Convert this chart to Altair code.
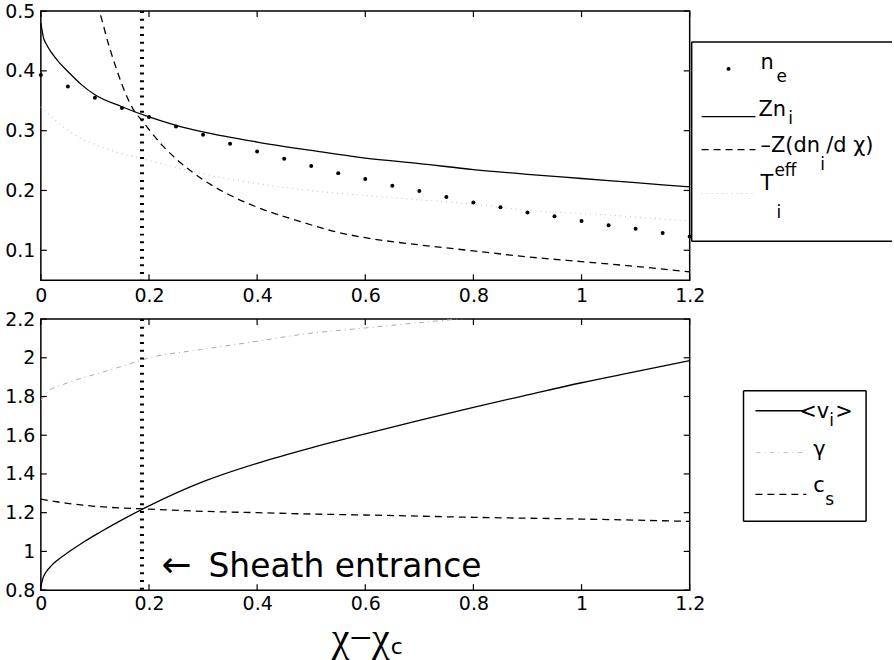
import altair as alt
import pandas as pd

# ---------------- data ----------------
# top panel
ne_x = [0, 0.05, 0.1, 0.15, 0.2, 0.25, 0.3, 0.35, 0.4, 0.45, 0.5, 0.55, 0.6,
        0.65, 0.7, 0.75, 0.8, 0.85, 0.9, 0.95, 1.0, 1.05, 1.1, 1.15, 1.2]
ne_y = [0.393, 0.374, 0.355, 0.338, 0.323, 0.307, 0.293, 0.278, 0.265, 0.253,
        0.241, 0.229, 0.219, 0.208, 0.199, 0.189, 0.180, 0.172, 0.163, 0.157,
        0.149, 0.142, 0.136, 0.129, 0.123]

zn_x = [0, 0.005, 0.01, 0.02, 0.035, 0.05, 0.075, 0.1, 0.15, 0.2, 0.25, 0.3,
        0.4, 0.5, 0.6, 0.7, 0.8, 0.9, 1.0, 1.1, 1.2]
zn_y = [0.48, 0.455, 0.445, 0.43, 0.413, 0.399, 0.377, 0.36, 0.34, 0.323, 0.309,
        0.298, 0.281, 0.267, 0.254, 0.245, 0.235, 0.227, 0.22, 0.213, 0.206]

dn_x = [0.095, 0.108, 0.125, 0.141, 0.16, 0.172, 0.186, 0.2, 0.225, 0.25, 0.3,
        0.35, 0.4, 0.48, 0.54, 0.6, 0.7, 0.8, 0.9, 1.0, 1.1, 1.2]
dn_y = [0.53, 0.5, 0.445, 0.4, 0.355, 0.334, 0.318, 0.302, 0.275, 0.253, 0.218,
        0.192, 0.172, 0.148, 0.132, 0.121, 0.109, 0.099, 0.089, 0.081, 0.073, 0.064]

te_x = [0, 0.03, 0.068, 0.1, 0.13, 0.2, 0.31, 0.45, 0.62, 0.8, 0.91, 1.03, 1.14, 1.2]
te_y = [0.34, 0.315, 0.29, 0.277, 0.267, 0.25, 0.226, 0.205, 0.19, 0.177, 0.166,
        0.16, 0.153, 0.149]

# bottom panel
vi_x = [0, 0.005, 0.01, 0.02, 0.03, 0.05, 0.08, 0.11, 0.15, 0.2, 0.3, 0.4,
        0.5, 0.6, 0.7, 0.8, 0.9, 1.0, 1.1, 1.2]
vi_y = [0.82, 0.87, 0.895, 0.928, 0.953, 0.994, 1.05, 1.1, 1.163, 1.235, 1.36,
        1.455, 1.535, 1.607, 1.677, 1.744, 1.808, 1.871, 1.928, 1.985]

gam_x = [0, 0.015, 0.034, 0.07, 0.11, 0.166, 0.2, 0.295, 0.4, 0.48, 0.6, 0.756, 0.85]
gam_y = [1.78, 1.83, 1.854, 1.89, 1.922, 1.97, 1.999, 2.042, 2.085, 2.12, 2.154,
         2.196, 2.22]

cs_x = [0, 0.049, 0.1, 0.2, 0.3, 0.4, 0.5, 0.6, 0.8, 1.0, 1.2]
cs_y = [1.27, 1.248, 1.233, 1.218, 1.207, 1.2, 1.193, 1.188, 1.176, 1.167, 1.155]

sheath_x = [0.187]
x_ticks = [0, 0.2, 0.4, 0.6, 0.8, 1.0, 1.2]
top_y_ticks = [0.1, 0.2, 0.3, 0.4, 0.5]
bot_y_ticks = [0.8, 1.0, 1.2, 1.4, 1.6, 1.8, 2.0, 2.2]
annot_arrow = {"x": 0.223, "y": 0.867}
annot_text = {"x": 0.31, "y": 0.867}

# ---------------- layout ----------------
W, H1, H2 = 651, 270, 272
XS = alt.Scale(domain=[0, 1.2], nice=False, zero=False)
YS1 = alt.Scale(domain=[0.05, 0.5], nice=False, zero=False)
YS2 = alt.Scale(domain=[0.8, 2.2], nice=False, zero=False)
FONT = "DejaVu Sans"

one = alt.Data(values=[{"k": 1}])

XAX1 = alt.Axis(values=x_ticks, format="~g", title=None, ticks=False, domain=False,
                grid=False, labelPadding=6, labelFlush=False, labelOverlap=False)
XAX2 = alt.Axis(values=x_ticks, format="~g", title=None, ticks=False, domain=False,
                grid=False, labelPadding=4, labelFlush=False, labelOverlap=False)
YAX1 = alt.Axis(values=top_y_ticks, format="~g", title=None, ticks=False, domain=False,
                grid=False, labelPadding=6, labelFlush=False, labelOverlap=False)
YAX2 = alt.Axis(values=bot_y_ticks, format="~g", title=None, ticks=False, domain=False,
                grid=False, labelPadding=6, labelFlush=False, labelOverlap=False)


def T(s, x, y, size=21, font=FONT, align="left", color="black"):
    return alt.Chart(one).mark_text(text=s, align=align, baseline="alphabetic",
                                    fontSize=size, font=font, color=color).encode(
        x=alt.value(x), y=alt.value(y))


def R(x1, x2, y1, y2, dash=None, color="black", width=1.3):
    kw = dict(color=color, strokeWidth=width)
    if dash:
        kw["strokeDash"] = dash
    return alt.Chart(one).mark_rule(**kw).encode(
        x=alt.value(x1), x2=alt.value(x2), y=alt.value(y1), y2=alt.value(y2))


def box(x1, x2, y1, y2, right=True):
    bg = alt.Chart(one).mark_rect(fill="white").encode(
        x=alt.value(x1), x2=alt.value(x2), y=alt.value(y1), y2=alt.value(y2))
    out = [bg, R(x1, x2, y1, y1, width=1.5), R(x1, x2, y2, y2, width=1.5),
           R(x1, x1, y1, y2, width=1.5)]
    if right:
        out.append(R(x2, x2, y1, y2, width=1.5))
    return out


def make_panel_helpers(xax, ysc, yax, h):
    def X():
        return alt.X("x:Q", scale=XS, axis=xax)

    def Y():
        return alt.Y("y:Q", scale=ysc, axis=yax)

    def line(xs, ys, dash=None, color="black", width=1.3, clip=False):
        df = pd.DataFrame({"x": xs, "y": ys})
        kw = dict(color=color, strokeWidth=width, interpolate="monotone", clip=clip)
        if dash:
            kw["strokeDash"] = dash
        return alt.Chart(df).mark_line(**kw).encode(x=X(), y=Y())

    def ticks(yticks):
        xt = pd.DataFrame({"x": x_ticks})
        yt = pd.DataFrame({"y": yticks})
        out = []
        for (a, b) in [(h, h - 6), (0, 6)]:
            out.append(alt.Chart(xt).mark_rule(color="black", strokeWidth=1.2).encode(
                x=X(), y=alt.value(a), y2=alt.value(b)))
        for (a, b) in [(0, 6), (W, W - 6)]:
            out.append(alt.Chart(yt).mark_rule(color="black", strokeWidth=1.2).encode(
                y=Y(), x=alt.value(a), x2=alt.value(b)))
        return out

    def sheath():
        return alt.Chart(pd.DataFrame({"x": sheath_x})).mark_rule(
            color="black", strokeWidth=4, strokeDash=[2, 5.7]).encode(x=X())

    return X, Y, line, ticks, sheath


DASH = [7, 5]
GRAYDOT = [1, 4]
GRAYDASHDOT = [5, 4, 1, 4]
GRAY = "#c4c4c4"
GRAY2 = "#ababab"

# ---------------- top panel ----------------
X1, Y1, line1, ticks1, sheath1 = make_panel_helpers(XAX1, YS1, YAX1, H1)
ne_df = pd.DataFrame({"x": ne_x, "y": ne_y})
ne_pts = alt.Chart(ne_df).mark_circle(size=16, color="black", opacity=1).encode(
    x=X1(), y=Y1())

anchor = alt.Chart(one).mark_rule(strokeOpacity=0, strokeWidth=0.1).encode(
    x=alt.value(-40), x2=alt.value(-39), y=alt.value(0), y2=alt.value(0))

top_layers = [
    line1(zn_x, zn_y),
    line1(te_x, te_y, dash=GRAYDOT, color=GRAY, width=1.1),
    line1(dn_x, dn_y, dash=DASH, clip=True),
    ne_pts,
    sheath1(),
] + ticks1(top_y_ticks) + box(653, 854, 31, 231, right=False) + [
    alt.Chart(one).mark_circle(size=16, color="black", opacity=1).encode(
        x=alt.value(690), y=alt.value(58)),
    T("n", 722, 58), T("e", 738, 71, size=17),
    R(663, 717, 106, 106),
    T("Zn", 720, 105), T("i", 750, 113, size=17),
    R(663, 717, 139, 139, dash=DASH),
    T("\u2013Z(dn", 722, 141), T("i", 782, 159, size=17), T("/d \u03c7)", 788, 141),
    R(663, 717, 183, 183, dash=GRAYDOT, color=GRAY, width=1.1),
    T("T", 722, 180), T("eff", 736, 165, size=17), T("i", 738, 208, size=17),
    anchor,
]
top = alt.layer(*top_layers).properties(width=W, height=H1)

# ---------------- bottom panel ----------------
X2, Y2, line2, ticks2, sheath2 = make_panel_helpers(XAX2, YS2, YAX2, H2)
arrow_df = pd.DataFrame([annot_arrow])
text_df = pd.DataFrame([annot_text])
arrow = alt.Chart(arrow_df).mark_text(text="\u2190", align="left", baseline="alphabetic",
                                      fontSize=36, font=FONT, color="black").encode(
    x=X2(), y=Y2())
sheath_txt = alt.Chart(text_df).mark_text(text="Sheath entrance", align="left",
                                          baseline="alphabetic", fontSize=33, font=FONT,
                                          color="black").encode(x=X2(), y=Y2())

LB = 72  # legend box top (relative to bottom panel)
bot_layers = [
    line2(vi_x, vi_y),
    line2(gam_x, gam_y, dash=GRAYDASHDOT, color=GRAY2, width=1.0, clip=True),
    line2(cs_x, cs_y, dash=DASH),
    sheath2(),
    arrow, sheath_txt,
] + ticks2(bot_y_ticks) + box(705, 828, LB, 203) + [
    R(717, 768, 92, 92),
    T("<v", 761, 99), T("i", 791, 107, size=17), T(">", 797, 99),
    R(717, 768, 134, 134, dash=GRAYDASHDOT, color=GRAY, width=1.0),
    T("\u03b3", 775, 137),
    R(717, 768, 176, 176, dash=DASH),
    T("c", 775, 174), T("s", 787, 187, size=17),
    T("\u03c7\u2212\u03c7", 321, 333, size=40, font="Liberation Serif", align="center"),
    T("c", 351, 336, size=22),
]
bottom = alt.layer(*bot_layers).properties(width=W, height=H2)

chart = alt.vconcat(top, bottom, spacing=39, bounds="flush").properties(
    padding={"left": 0, "top": 0, "right": 0, "bottom": 0},
    background="white",
).configure_view(stroke="black", strokeWidth=1.5).configure_axis(
    labelFont=FONT, labelFontSize=19, labelColor="black")

chart.save("out.html", embed_options={"renderer": "svg", "actions": False})
